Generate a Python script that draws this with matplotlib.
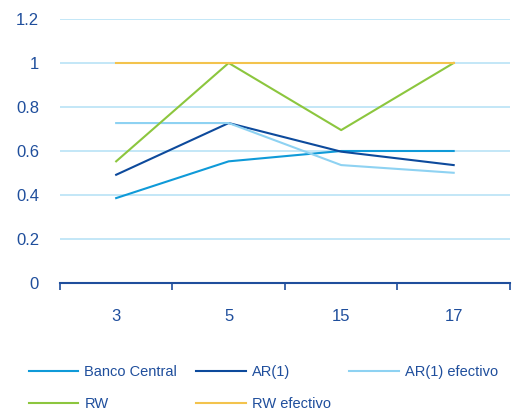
import numpy as np
import matplotlib.pyplot as plt

plt.rcParams['font.family'] = ['Liberation Sans', 'DejaVu Sans']

# data
horizons = ['3', '5', '15', '17']
banco_central = [0.386, 0.553, 0.600, 0.600]
ar1 = [0.492, 0.727, 0.597, 0.536]
ar1_efectivo = [0.727, 0.727, 0.536, 0.501]
rw = [0.553, 1.0, 0.695, 1.0]
rw_efectivo = [1.0, 1.0, 1.0, 1.0]

text_col = '#1f4e9c'
grid_col = '#b9e3f6'

fig = plt.figure(figsize=(5.12, 4.12), dpi=100)
ax = fig.add_axes([0.117, 0.313, 0.879, 0.641])

x = np.arange(len(horizons))
l_bc, = ax.plot(x, banco_central, color='#0f9ad8', lw=1.5, label='Banco Central')
l_ar, = ax.plot(x, ar1, color='#0d4a9c', lw=1.5, label='AR(1)')
l_are, = ax.plot(x, ar1_efectivo, color='#8ed2f2', lw=1.5, label='AR(1) efectivo')
l_rw, = ax.plot(x, rw, color='#8cc63e', lw=1.5, label='RW')
l_rwe, = ax.plot(x, rw_efectivo, color='#f3c34d', lw=1.5, label='RW efectivo')

ax.set_xlim(-0.5, len(horizons) - 0.5)
ax.set_ylim(0, 1.2)
ax.set_yticks(np.arange(0, 1.21, 0.2))
ax.set_yticklabels(['0', '0.2', '0.4', '0.6', '0.8', '1', '1.2'])
ax.yaxis.grid(True, color=grid_col, lw=1.2)
ax.set_axisbelow(True)

# category labels centred, tick marks between categories
ax.set_xticks(x)
ax.set_xticklabels(horizons)
ax.set_xticks(np.arange(-0.5, len(horizons)), minor=True)
ax.tick_params(axis='x', which='major', length=0, pad=19)
ax.tick_params(axis='x', which='minor', length=5, width=1.2, color=text_col, direction='out')
ax.tick_params(axis='y', length=0, pad=15)
ax.tick_params(labelsize=12, labelcolor=text_col)

for s in ['top', 'right', 'left']:
    ax.spines[s].set_visible(False)
ax.spines['bottom'].set_color(text_col)
ax.spines['bottom'].set_linewidth(1.5)

# legend, row-major order like the original
handles = [l_bc, l_rw, l_ar, l_rwe, l_are]
fig.legend(handles=handles, labels=[h.get_label() for h in handles],
           loc='upper left', bbox_to_anchor=(0.045, 0.129), ncol=3, frameon=False,
           fontsize=10.5, labelcolor=text_col, handlelength=3.4, handletextpad=0.4,
           columnspacing=1.3, borderaxespad=0, labelspacing=1.23)

fig.savefig('out.png', dpi=100)
